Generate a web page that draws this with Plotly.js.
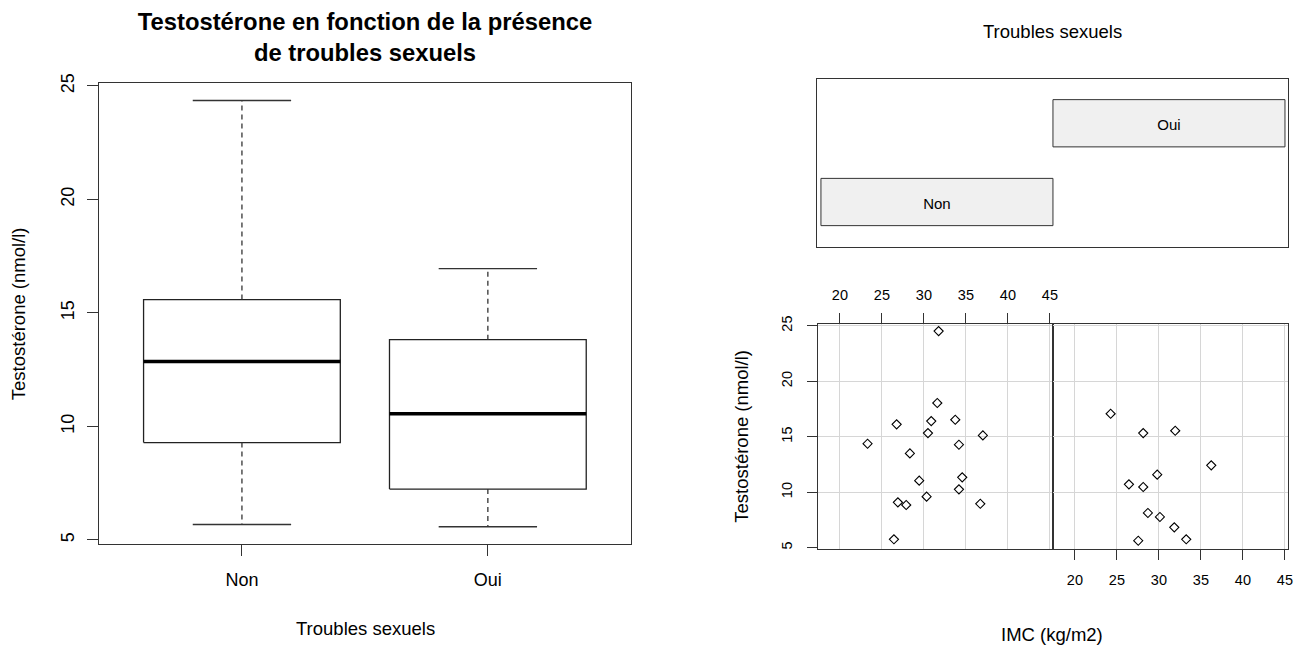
<!DOCTYPE html>
<html>
<head>
<meta charset="utf-8">
<script src="https://cdn.plot.ly/plotly-3.0.1.min.js"></script>
<style>html,body{margin:0;padding:0;background:#fff;}</style>
</head>
<body>
<div id="chart" style="width:1297px;height:646px;"></div>
<script>
// ---------- data ----------
const boxCats = ['Non', 'Oui'];
const boxLow  = [5.68, 5.58];
const boxQ1   = [9.29, 7.24];
const boxMed  = [12.86, 10.56];
const boxQ3   = [15.59, 13.82];
const boxHigh = [24.36, 16.95];

const givenLevels = ['Non', 'Oui'];
const givenLow  = [0.5, 1.5];
const givenHigh = [1.5, 2.5];

const imcNon   = [31.75, 31.59, 26.75, 30.87, 33.73, 30.48, 37.02, 23.29, 34.17, 28.33, 29.44, 34.56, 34.17, 30.32, 26.90, 27.89, 36.71, 26.43];
const testoNon = [24.52, 18.04, 16.12, 16.41, 16.53, 15.33, 15.12, 14.37, 14.28, 13.50, 11.04, 11.34, 10.26, 9.60, 9.09, 8.85, 8.96, 5.76];
const imcOui   = [24.25, 28.13, 31.94, 36.23, 29.80, 26.43, 28.13, 28.69, 30.12, 31.83, 33.25, 27.54];
const testoOui = [17.07, 15.33, 15.54, 12.42, 11.58, 10.71, 10.47, 8.13, 7.77, 6.84, 5.76, 5.63];

const imcTicks = [20, 25, 30, 35, 40, 45];
const testoTicks = [5, 10, 15, 20, 25];

// ---------- helpers ----------
const W = 1297, H = 646;
const px = v => v / W;
const py = v => 1 - v / H;
const LINE = '#333';
const FONT = 'Liberation Sans, Arial, sans-serif';

const traces = [];

// Boxplots (R style)
const hw = 0.4, cw = 0.2;
boxCats.forEach((c, i) => {
  const x = i + 1;
  traces.push({type:'scatter', mode:'lines', xaxis:'x', yaxis:'y', hoverinfo:'skip',
    x:[x-hw, x+hw, x+hw, x-hw, x-hw], y:[boxQ1[i], boxQ1[i], boxQ3[i], boxQ3[i], boxQ1[i]],
    line:{color:'#222', width:1.3}});
  traces.push({type:'scatter', mode:'lines', xaxis:'x', yaxis:'y', hoverinfo:'skip',
    x:[x-hw, x+hw], y:[boxMed[i], boxMed[i]], line:{color:'#000', width:3.6}});
  traces.push({type:'scatter', mode:'lines', xaxis:'x', yaxis:'y', hoverinfo:'skip',
    x:[x, x, null, x, x], y:[boxQ3[i], boxHigh[i], null, boxQ1[i], boxLow[i]],
    line:{color:'#333', width:1.3, dash:'5px,4px'}});
  traces.push({type:'scatter', mode:'lines', xaxis:'x', yaxis:'y', hoverinfo:'skip',
    x:[x-cw, x+cw, null, x-cw, x+cw], y:[boxHigh[i], boxHigh[i], null, boxLow[i], boxLow[i]],
    line:{color:'#333', width:1.3}});
});

// Given panel (coplot)
givenLevels.forEach((g, i) => {
  const lv = i + 1;
  traces.push({type:'scatter', mode:'lines', xaxis:'x2', yaxis:'y2', hoverinfo:'skip',
    x:[givenLow[i], givenHigh[i], givenHigh[i], givenLow[i], givenLow[i]],
    y:[lv-0.3, lv-0.3, lv+0.3, lv+0.3, lv-0.3],
    fill:'toself', fillcolor:'#f0f0f0', line:{color:'#333', width:1}});
  traces.push({type:'scatter', mode:'text', xaxis:'x2', yaxis:'y2', hoverinfo:'skip',
    x:[(givenLow[i] + givenHigh[i]) / 2], y:[lv - 0.04], text:[g],
    textfont:{family:FONT, size:15, color:'#000'}});
});

// Conditioned scatter panels
traces.push({type:'scatter', mode:'markers', xaxis:'x3', yaxis:'y3', x:imcNon, y:testoNon,
  marker:{symbol:'diamond-open', size:7, color:'#000', line:{width:1.1}}});
traces.push({type:'scatter', mode:'markers', xaxis:'x4', yaxis:'y4', x:imcOui, y:testoOui,
  marker:{symbol:'diamond-open', size:7, color:'#000', line:{width:1.1}}});

const axBase = {showline:true, mirror:true, linecolor:LINE, linewidth:1, zeroline:false, showgrid:false,
  ticks:'outside', tickcolor:LINE, tickwidth:1, fixedrange:true};

const scatRangeX = [17.33, 45.31];
const scatRangeY = [4.93, 25.13];

const layout = {
  width:W, height:H, margin:{l:0, r:0, t:0, b:0},
  paper_bgcolor:'#fff', plot_bgcolor:'rgba(0,0,0,0)', showlegend:false,
  font:{family:FONT, color:'#000'},
  title:{text:'<b>Testostérone en fonction de la présence<br>de troubles sexuels</b>',
    font:{family:FONT, size:23.8, color:'#000'}, x:px(365), xref:'paper', xanchor:'center',
    y:py(30), yref:'container', yanchor:'middle'},
  xaxis: Object.assign({}, axBase, {domain:[px(99.3), px(630.5)], anchor:'y', range:[0.42, 2.58],
    tickvals:[1, 2], ticktext:boxCats, ticklen:11, tickfont:{size:18}, ticklabelstandoff:8}),
  yaxis: Object.assign({}, axBase, {domain:[py(544), py(83)], anchor:'x', range:[4.82, 25.13],
    tickvals:testoTicks, ticklen:11, tickangle:-90, tickfont:{size:18}, ticklabelstandoff:6}),
  xaxis2: Object.assign({}, axBase, {domain:[px(817), px(1288)], anchor:'y2', range:[0.483, 2.513],
    ticks:'', showticklabels:false}),
  yaxis2: Object.assign({}, axBase, {domain:[py(247.3), py(79)], anchor:'x2', range:[0.425, 2.562],
    ticks:'', showticklabels:false}),
  xaxis3: Object.assign({}, axBase, {domain:[px(817.5), px(1052.5)], anchor:'y3', side:'top', range:scatRangeX,
    tickvals:imcTicks, ticklen:10, tickfont:{size:14.5}, showgrid:true, gridcolor:'#d6d6d6', gridwidth:1, ticklabelstandoff:8}),
  yaxis3: Object.assign({}, axBase, {domain:[py(548.5), py(324.3)], anchor:'x3', range:scatRangeY,
    tickvals:testoTicks, ticklen:10, tickangle:-90, tickfont:{size:14.5}, showgrid:true, gridcolor:'#d6d6d6', gridwidth:1, ticklabelstandoff:9}),
  xaxis4: Object.assign({}, axBase, {domain:[px(1052.5), px(1287.5)], anchor:'y4', side:'bottom', range:scatRangeX,
    tickvals:imcTicks, ticklen:10, tickfont:{size:14.5}, showgrid:true, gridcolor:'#d6d6d6', gridwidth:1, ticklabelstandoff:8}),
  yaxis4: Object.assign({}, axBase, {domain:[py(548.5), py(324.3)], anchor:'x4', range:scatRangeY,
    tickvals:testoTicks, ticks:'', showticklabels:false, showgrid:true, gridcolor:'#d6d6d6', gridwidth:1}),
  annotations:[
    {text:'Testostérone (nmol/l)', xref:'paper', yref:'paper', x:px(18.7), y:py(313.5), textangle:-90,
     showarrow:false, xanchor:'center', yanchor:'middle', font:{size:18.5}},
    {text:'Troubles sexuels', xref:'paper', yref:'paper', x:px(365), y:py(628), showarrow:false,
     xanchor:'center', yanchor:'middle', font:{size:18.5}},
    {text:'Troubles sexuels', xref:'paper', yref:'paper', x:px(1052), y:py(31), showarrow:false,
     xanchor:'center', yanchor:'middle', font:{size:18.5}},
    {text:'Testostérone (nmol/l)', xref:'paper', yref:'paper', x:px(740.7), y:py(436), textangle:-90,
     showarrow:false, xanchor:'center', yanchor:'middle', font:{size:18.5}},
    {text:'IMC (kg/m2)', xref:'paper', yref:'paper', x:px(1052), y:py(634), showarrow:false,
     xanchor:'center', yanchor:'middle', font:{size:18.5}}
  ]
};

Plotly.newPlot('chart', traces, layout, {displayModeBar:false, staticPlot:true});
</script>
</body>
</html>
